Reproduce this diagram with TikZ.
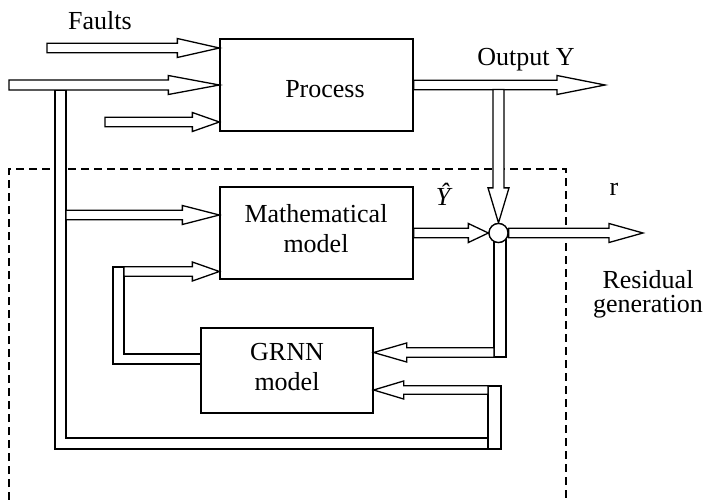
\documentclass[tikz,border=0pt]{standalone}
\usepackage{fontspec}
\setmainfont{Liberation Serif}
\usetikzlibrary{calc}
\tikzset{
  fat/.style={draw, fill=white, line width=1.3pt, line join=miter},
  blockbox/.style={draw, line width=1.3pt, inner sep=0pt},
  lbl/.style={inner sep=0pt, font=\fontsize{26}{30}\selectfont},
  region/.style={draw, line width=1.2pt, dash pattern=on 8pt off 5pt},
}
% #1 start, #2 tip, #3 half shaft width, #4 head length, #5 half head width
\newcommand\fatarrow[5]{%
  \coordinate (fahb) at ($(#2)!#4!(#1)$);
  \draw[fat] ($(#1)!#3!90:(#2)$) -- ($(fahb)!#3!-90:(#1)$) -- ($(fahb)!#5!-90:(#1)$)
    -- (#2) -- ($(fahb)!#5!90:(#1)$) -- ($(fahb)!#3!90:(#1)$) -- ($(#1)!#3!-90:(#2)$) -- cycle;
}
\begin{document}
\begin{tikzpicture}[x=1pt,y=-1pt]
\useasboundingbox (0,0) rectangle (706,500);
% residual generation region
\draw[region] (9,500) -- (9,169) -- (566,169) -- (566,500);

% blocks
\node[blockbox, minimum width=193pt, minimum height=92pt] (process) at (316.5,85) {};
\node[blockbox, minimum width=193pt, minimum height=92pt] (math) at (316.5,233) {};
\node[blockbox, minimum width=172pt, minimum height=85pt] (grnn) at (287,370.5) {};

% coordinates
\coordinate (f1) at (47,48);   \coordinate (p1) at (process.west |- f1);
\coordinate (u1) at (9,85);    \coordinate (p2) at (process.west |- u1);
\coordinate (u2) at (105,122); \coordinate (p3) at (process.west |- u2);
\coordinate (yout) at (605,85);
\coordinate (d0) at (498.5,89.5);
\coordinate (rout) at (643,233);
\coordinate (m1s) at (66,215);    \coordinate (m1) at (math.west |- m1s);
\coordinate (m2s) at (124,271.5); \coordinate (m2) at (math.west |- m2s);
\coordinate (g1s) at (494,352.5); \coordinate (g1) at (grnn.east |- g1s);
\coordinate (g2s) at (488,390);   \coordinate (g2) at (grnn.east |- g2s);
\coordinate (sumc) at (498.5,233);

% bars
\draw[fat] (55,90) -- (66,90) -- (66,438) -- (488,438) -- (488,449) -- (55,449) -- cycle;
\draw[fat] (488,386) rectangle (501,449);
\draw[fat] (113,267) -- (124,267) -- (124,354) -- (grnn.west |- 0,354) -- (grnn.west |- 0,364) -- (113,364) -- cycle;
\draw[fat] (494,240) rectangle (506,357);

% arrows
\fatarrow{f1}{p1}{4.8pt}{42pt}{9.5pt}
\fatarrow{u1}{p2}{5pt}{51pt}{9.5pt}
\fatarrow{u2}{p3}{4.8pt}{27pt}{9.5pt}
\fatarrow{process.east}{yout}{4.8pt}{48pt}{9.5pt}
\fatarrow{m1s}{m1}{4.8pt}{37pt}{9.5pt}
\fatarrow{m2s}{m2}{4.8pt}{27pt}{9.5pt}
\fatarrow{g1s}{g1}{4.8pt}{33pt}{9.5pt}
\fatarrow{g2s}{g2}{4.3pt}{30pt}{9pt}

% summing junction
\node[draw, circle, minimum size=19pt, inner sep=0pt, line width=1.3pt, fill=white] (sum) at (sumc) {};
\fatarrow{d0}{sum.north}{5.5pt}{35pt}{10.5pt}
\fatarrow{math.east}{sum.west}{4.8pt}{20pt}{9.5pt}
\fatarrow{sum.east}{rout}{4.8pt}{34pt}{9.5pt}
\node[draw, circle, minimum size=19pt, inner sep=0pt, line width=1.3pt, fill=white] at (sumc) {};

% labels
\node[lbl, anchor=base] (tfaults) at (100,30) {Faults};
\node[lbl, anchor=base] (tprocess) at (325,98) {Process};
\node[lbl, anchor=base] (toutput) at (526,66) {Output Y};
\node[lbl, anchor=base] (tyhat) at (443,205) {\itshape Ŷ};
\node[lbl, anchor=base] (tr) at (614,195) {r};
\node[lbl, anchor=base, align=center] (tmath) at (316,252) {Mathematical\\model};
\node[lbl, anchor=base, align=center] (tgrnn) at (287,390) {GRNN\\model};
\node[lbl, anchor=base, align=center, font=\fontsize{26}{24}\selectfont] (tres) at (648,312) {Residual\\generation};
\end{tikzpicture}
\end{document}
